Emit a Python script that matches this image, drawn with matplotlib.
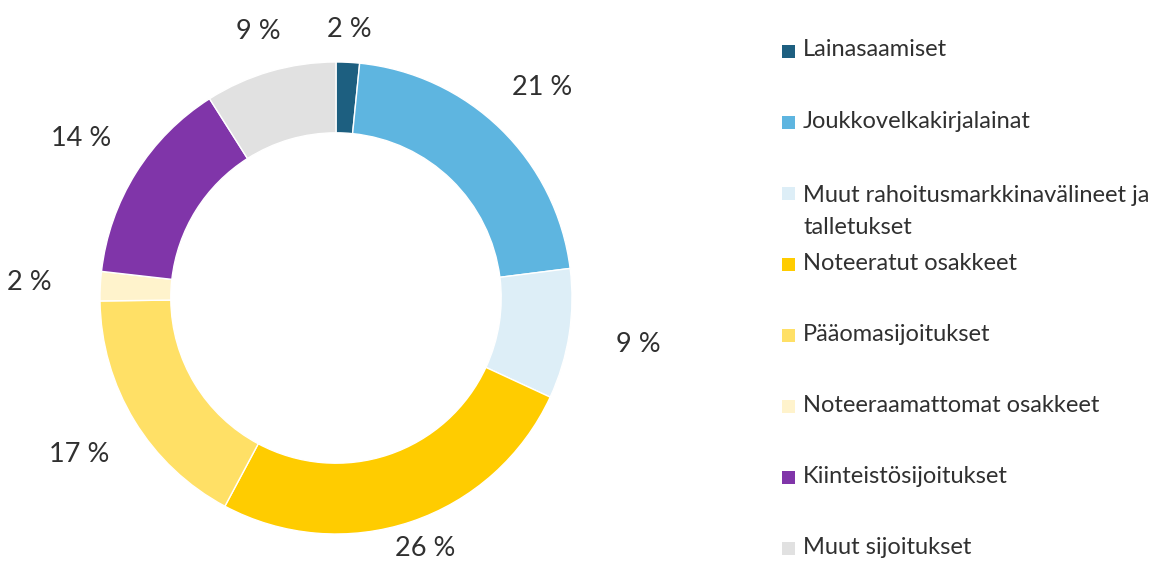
import numpy as np
import matplotlib.pyplot as plt
from matplotlib.patches import Rectangle

# data
categories = ['Lainasaamiset', 'Joukkovelkakirjalainat',
              'Muut rahoitusmarkkinavälineet ja\ntalletukset',
              'Noteeratut osakkeet', 'Pääomasijoitukset',
              'Noteeraamattomat osakkeet', 'Kiinteistösijoitukset',
              'Muut sijoitukset']
shares = [1.6, 21.4, 8.9, 25.9, 17.0, 2.0, 14.2, 9.0]
colors = ['#1D5F80', '#5EB5E0', '#DDEEF7', '#FFCC00', '#FFE066',
          '#FFF3CC', '#8035A9', '#E1E1E1']

plt.rcParams['font.family'] = ['Lato', 'DejaVu Sans']
text_color = '#303030'

fig = plt.figure(figsize=(11.72, 5.68), dpi=100)
ax = fig.add_axes([0, 0, 1, 1])

cx, cy, R = 336, 270, 236
wedges, _ = ax.pie(shares, colors=colors, startangle=90, counterclock=False,
                   center=(cx, cy), radius=R, frame=True,
                   wedgeprops=dict(width=R * 0.3, edgecolor='white', linewidth=1))
ax.set_xlim(0, 1172)
ax.set_ylim(0, 568)
ax.set_aspect('equal')
ax.axis('off')

# percentage labels outside the ring
cum = np.cumsum([0] + shares)
for i, v in enumerate(shares):
    mid = (cum[i] + cum[i + 1]) / 2 / 100 * 2 * np.pi
    r = R * (1.13 + 0.17 * abs(np.sin(mid)))
    x = cx + r * np.sin(mid)
    y = max(cy + r * np.cos(mid), 19)
    ax.text(x, y, f'{v:.0f} %', ha='center', va='center', fontsize=19.5,
            color=text_color)

# legend
for i, (name, col) in enumerate(zip(categories, colors)):
    y = 517 - i * 71.1
    ax.add_patch(Rectangle((782, y - 6.5), 13, 13, facecolor=col, edgecolor='none'))
    if '\n' in name:
        ax.text(803, y + 8, name, ha='left', va='top', fontsize=17,
                color=text_color, linespacing=1.65)
    else:
        ax.text(803, y + 1, name, ha='left', va='center', fontsize=17,
                color=text_color)

fig.savefig('out.png', dpi=100)
